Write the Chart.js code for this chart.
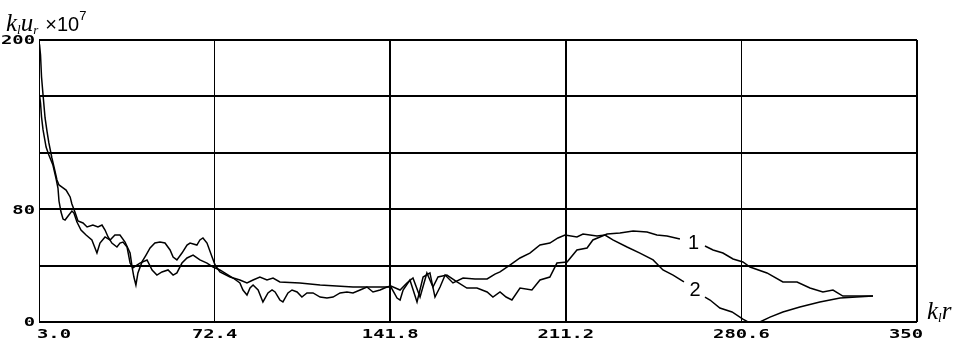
<!DOCTYPE html>
<html>
<head>
<meta charset="utf-8">
<script src="https://cdn.jsdelivr.net/npm/chart.js@4.4.1/dist/chart.umd.min.js"></script>
<style>
  body { margin: 0; background: #fff; }
  #wrap { position: relative; width: 960px; height: 343px; }
  .ttl { position: absolute; color: #000; white-space: nowrap; line-height: 1; }
  .ttl i { font-family: "Liberation Serif", serif; font-size: 25px; }
  .ttl sub { font-family: "Liberation Serif", serif; font-style: italic; font-size: 13px; vertical-align: -3px; }
  .ttl .mul { font-family: "Liberation Sans", sans-serif; font-size: 20px; margin-left: 7px; }
  .ttl sup { font-family: "Liberation Sans", sans-serif; font-size: 13px; vertical-align: 11px; }
</style>
</head>
<body>
<div id="wrap">
  <canvas id="myChart" width="960" height="343"></canvas>
  <div class="ttl" style="left:6px;top:9px"><i>k</i><sub>l</sub><i>u</i><sub>r</sub><span class="mul">×10<sup>7</sup></span></div>
  <div class="ttl" style="left:927px;top:298px"><i>k</i><sub>l</sub><i>r</i></div>
</div>
<script>
// axis ticks
const xTicks = [3.0, 72.4, 141.8, 211.2, 280.6, 350];
const xTickLabels = ["3.0", "72.4", "141.8", "211.2", "280.6", "350"];
const yTicks = [0, 40, 80, 120, 160, 200];
const yTickLabels = ["0", "", "80", "", "", "200"];

// curve 1
const curve1X = [3.2, 3.6, 4.0, 4.6, 5.4, 6.2, 6.9, 8.1, 9.3, 10.1, 10.9, 12.1, 13.7, 15.3, 16.0, 17.2, 18.4, 20.4, 22.0, 24.3,
  26.3, 27.9, 29.1, 30.3, 31.8, 33.8, 35.0, 36.2, 37.8, 39.0, 40.1, 41.7, 42.9, 45.7, 47.7, 49.6, 51.6, 54.0, 56.0, 57.5,
  59.5, 61.5, 63.9, 66.6, 69.4, 71.8, 74.5, 79.7, 82.4, 83.6, 85.2, 86.4, 87.6, 89.6, 91.5, 93.5, 95.1, 96.3, 98.2, 99.4,
  101.4, 103.0, 105.0, 106.9, 108.9, 111.3, 114.1, 116.8, 119.2, 122.0, 124.7, 127.1, 129.9, 132.6, 135.0, 137.8, 140.5, 142.1, 145.7, 148.4,
  150.8, 153.6, 156.3, 158.7, 160.7, 164.2, 168.2, 172.1, 176.1, 180.1, 182.4, 185.2, 187.6, 189.9, 193.1, 197.8, 201.0, 204.9, 207.7, 211.7,
  215.6, 219.6, 221.9, 224.7, 227.5, 232.6, 237.8, 243.3, 247.2, 251.2, 256.3, 261.1, 266.2, 269.4, 273.3, 277.3, 281.2, 284.0, 290.7, 297.0,
  302.6, 307.7, 312.8, 316.8, 320.7, 332.6];
const curve1Y = [197, 189.3, 173.8, 161.0, 144.7, 134.8, 127.0, 116.3, 107.1, 100.7, 97.2, 95.7, 93.6, 88.7, 83.7, 78.0, 71.6, 70.2, 67.4, 68.8,
  67.4, 68.8, 65.2, 60.3, 56.0, 53.2, 56.0, 56.7, 53.2, 41.8, 38.3, 40.4, 41.8, 44.0, 36.9, 33.3, 35.5, 36.9, 33.3, 34.8,
  41.8, 45.4, 47.5, 44.0, 41.8, 39.0, 36.9, 31.2, 27.7, 22.7, 19.1, 24.1, 26.2, 22.7, 14.2, 20.6, 22.7, 21.3, 15.6, 14.2,
  20.6, 22.7, 21.3, 17.7, 20.6, 20.6, 17.7, 17.0, 17.7, 20.6, 21.3, 20.6, 22.7, 24.8, 21.3, 22.7, 24.8, 25.5, 22.7, 27.7,
  31.2, 17.7, 34.8, 24.8, 31.9, 33.3, 28.4, 24.1, 24.1, 21.3, 17.7, 21.3, 17.7, 15.6, 24.1, 22.7, 29.8, 31.9, 41.8, 42.6,
  51.1, 52.5, 58.2, 60.3, 62.4, 63.1, 64.5, 63.8, 61.7, 61.0, 58.9, null, 53.9, 51.1, 48.9, 44.7, 42.6, 39.0, 34.8, 28.4,
  28.4, 24.1, 21.3, 22.7, 18.4, 18.4];

// curve 2
const curve2X = [3.2, 3.6, 4.0, 4.6, 5.8, 6.9, 8.5, 9.7, 10.5, 10.9, 11.7, 12.5, 13.3, 14.5, 16.0, 16.8, 18.0, 19.6, 21.6, 23.9,
  25.9, 27.1, 29.1, 31.1, 33.0, 35.0, 37.0, 39.0, 39.8, 40.5, 41.3, 42.1, 43.7, 45.3, 46.9, 48.8, 50.8, 52.8, 54.8, 56.0,
  57.5, 59.5, 61.5, 62.7, 65.4, 66.6, 67.8, 69.4, 71.4, 72.6, 74.5, 78.5, 82.4, 85.2, 87.6, 90.3, 93.1, 95.5, 98.2, 106.1,
  114.1, 127.1, 140.5, 142.1, 144.5, 145.7, 146.9, 149.6, 152.4, 154.8, 157.5, 159.5, 161.5, 163.5, 166.6, 170.6, 175.3, 180.1, 183.2, 185.2,
  189.1, 193.1, 197.0, 201.0, 204.9, 208.1, 210.9, 215.6, 218.0, 223.5, 226.7, 229.8, 235.4, 240.5, 245.7, 249.6, 253.6, 257.9, 261.9, 266.2,
  268.2, 272.1, 276.9, 281.2, 283.2, 287.9, 291.9, 297.0, 303.7, 311.6, 319.6, 332.6];
const curve2Y = [161.0, 155.3, 145.4, 136.2, 124.1, 118.4, 111.3, 102.1, 95.0, 85.8, 78.0, 73.0, 72.3, 75.2, 78.7, 77.3, 70.9, 65.2, 61.7, 58.2,
  48.9, 56.0, 60.3, 58.2, 61.7, 61.7, 56.7, 48.9, 39.0, 31.9, 26.2, 34.8, 42.6, 47.5, 52.5, 56.0, 56.7, 56.0, 51.1, 46.1,
  44.0, 48.9, 54.6, 56.0, 54.6, 58.2, 59.6, 56.0, 46.1, 40.4, 35.5, 31.9, 29.8, 27.7, 29.8, 31.9, 29.8, 31.2, 28.4, 27.7,
  26.2, 24.8, 24.8, 24.8, 17.0, 15.6, 22.7, 29.8, 14.2, 31.9, 34.8, 17.7, 24.8, 33.3, 27.7, 31.2, 30.5, 30.5, 34.0, 35.5,
  40.4, 45.4, 48.9, 54.6, 56.0, 59.6, 61.7, 60.3, 62.4, 61.0, 61.7, 58.2, 53.2, 48.9, 44.0, 36.9, 33.3, 28.4, null, 17.7,
  15.6, 9.9, 7.1, 2.1, 0, 0, 3.5, 7.1, 10.6, 14.2, 17.0, 18.4];

const curveNames = ["1", "2"];
const curveNameX = [261.7, 262.3];
const curveNameY = [56.0, 22.0];

const xGridWidths = [1, 1, 2, 2, 1, 2];

function toPoints(xs, ys) {
  return xs.map((x, i) => ({ x: x, y: ys[i] }));
}

function wideText(ctx, text, x, y, align) {
  ctx.save();
  ctx.translate(x, y);
  ctx.scale(1.45, 1);
  ctx.textAlign = align;
  ctx.fillText(text, 0, 0);
  ctx.restore();
}

const textPlugin = {
  id: "textPlugin",
  afterDraw(chart) {
    const ctx = chart.ctx;
    const xs = chart.scales.x;
    const ys = chart.scales.y;
    ctx.save();
    ctx.fillStyle = "#000";
    ctx.textBaseline = "middle";
    ctx.font = "bold 13px 'DejaVu Sans Mono'";
    xTicks.forEach((v, i) => {
      let px = xs.getPixelForValue(v);
      let align = "center";
      if (i === 0) { align = "left"; px -= 2; }
      if (i === xTicks.length - 1) { align = "right"; px += 6; }
      wideText(ctx, xTickLabels[i], px, 335, align);
    });
    yTicks.forEach((v, i) => {
      if (!yTickLabels[i]) return;
      wideText(ctx, yTickLabels[i], 35, ys.getPixelForValue(v) + 1, "right");
    });
    ctx.font = "20px 'Liberation Sans'";
    ctx.textAlign = "center";
    curveNames.forEach((n, i) => {
      ctx.fillText(n, xs.getPixelForValue(curveNameX[i]), ys.getPixelForValue(curveNameY[i]));
    });
    ctx.restore();
  },
};

const ctx = document.getElementById("myChart");

const chart = new Chart(ctx, {
  type: "line",
  data: {
    datasets: [
      {
        data: toPoints(curve1X, curve1Y),
        borderColor: "#000",
        borderWidth: 1.5,
        pointRadius: 0,
        spanGaps: false,
      },
      {
        data: toPoints(curve2X, curve2Y),
        borderColor: "#000",
        borderWidth: 1.5,
        pointRadius: 0,
        spanGaps: false,
      },
    ],
  },
  options: {
    responsive: false,
    animation: false,
    layout: { padding: { top: 40, right: 43, left: 0, bottom: 0 } },
    plugins: {
      legend: { display: false },
      tooltip: { enabled: false },
    },
    scales: {
      x: {
        type: "linear",
        min: 3,
        max: 350,
        afterBuildTicks: (scale) => { scale.ticks = xTicks.map((v) => ({ value: v })); },
        afterFit: (scale) => { scale.height = 21; },
        ticks: { display: false },
        border: { display: false },
        grid: {
          color: "#000",
          drawTicks: false,
          lineWidth: (c) => xGridWidths[c.index] || 1,
        },
      },
      y: {
        min: 0,
        max: 200,
        afterBuildTicks: (scale) => { scale.ticks = yTicks.map((v) => ({ value: v })); },
        afterFit: (scale) => { scale.width = 39; },
        ticks: { display: false },
        border: { display: false },
        grid: {
          color: "#000",
          drawTicks: false,
          lineWidth: 2,
        },
      },
    },
  },
  plugins: [textPlugin],
});
</script>
</body>
</html>
